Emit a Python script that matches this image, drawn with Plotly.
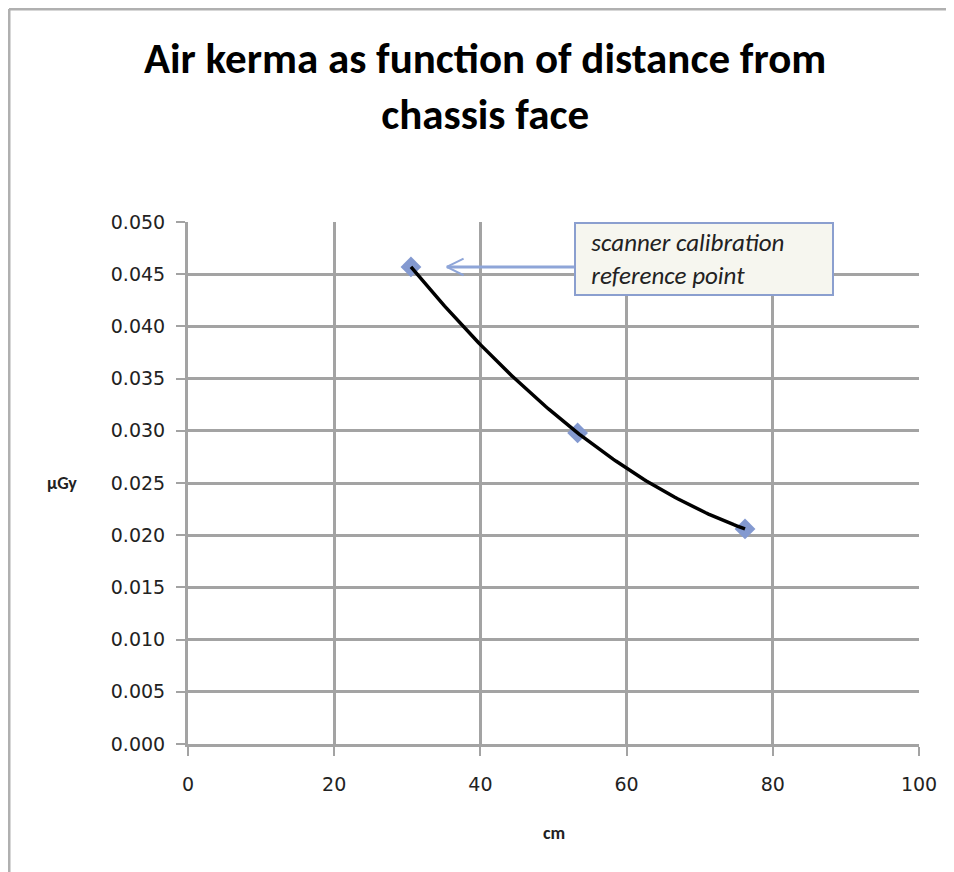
import numpy as np
import plotly.graph_objects as go

# ---- data ----
distance_cm = [30.5, 53.3, 76.2]
air_kerma_uGy = [0.0457, 0.0298, 0.0206]
x_ticks = [0, 20, 40, 60, 80, 100]
y_ticks = [0.000, 0.005, 0.010, 0.015, 0.020, 0.025, 0.030, 0.035, 0.040, 0.045, 0.050]
title_text = "Air kerma as function of distance from<br>chassis face"
note_lines = ["scanner calibration", "reference point"]

FONT = "Carlito, Calibri, 'Liberation Sans Narrow', 'Open Sans', sans-serif"
TICKFONT = "'DejaVu Sans', Verdana, sans-serif"
GRID = "#a3a3a3"
MARK = "#8399d0"
ARROW = "#8ea5d8"

L, T, PW, PH = 180, 214, 731, 522

# trendline (2nd-order polynomial fit of the measured points)
coef = np.polyfit(distance_cm, air_kerma_uGy, 2)
xt = np.linspace(min(distance_cm), max(distance_cm), 120)
yt = np.polyval(coef, xt)

fig = go.Figure()
fig.add_trace(go.Scatter(
    x=distance_cm, y=air_kerma_uGy, mode="markers",
    marker=dict(symbol="diamond", size=16, color=MARK, line=dict(width=0)),
    showlegend=False, hoverinfo="skip"))
fig.add_trace(go.Scatter(
    x=xt, y=yt, mode="lines", line=dict(color="#000000", width=3.5),
    showlegend=False, hoverinfo="skip"))

fig.update_layout(
    width=954, height=872,
    margin=dict(l=L, r=954 - L - PW, t=T, b=872 - T - PH),
    paper_bgcolor="white", plot_bgcolor="white",
    font=dict(family=FONT, color="#222222"),
)
fig.update_xaxes(
    range=[0, 100], tickvals=x_ticks, ticktext=[str(v) for v in x_ticks],
    showgrid=True, gridcolor=GRID, gridwidth=3,
    showline=True, linecolor=GRID, linewidth=3,
    ticks="outside", ticklen=9, tickwidth=2, tickcolor=GRID,
    ticklabelstandoff=12, zeroline=False,
    tickfont=dict(family=TICKFONT, size=19, color="#222222"))
fig.update_yaxes(
    range=[0, 0.05], tickvals=y_ticks, ticktext=[f"{v:.3f}" for v in y_ticks],
    showgrid=True, gridcolor=GRID, gridwidth=3,
    showline=True, linecolor=GRID, linewidth=3,
    ticks="outside", ticklen=9, tickwidth=2, tickcolor=GRID,
    ticklabelstandoff=7, zeroline=False,
    tickfont=dict(family=TICKFONT, size=19, color="#222222"))

# title (single text, two lines)
fig.add_annotation(text=title_text, xref="paper", yref="paper",
                   x=(477 - L) / PW, y=1 + (T - (86 - 8)) / PH,
                   xanchor="center", yanchor="middle", showarrow=False,
                   font=dict(family=FONT, size=43, color="#000000", weight="bold"))

# axis titles
fig.add_annotation(text="µGy", xref="paper", yref="y", x=(54 - L) / PW, y=0.025,
                   xanchor="center", yanchor="middle", showarrow=False,
                   font=dict(family=FONT, size=18, color="#222222", weight="bold"))
fig.add_annotation(text="cm", xref="x", yref="paper", x=50, y=-89 / PH,
                   xanchor="center", yanchor="middle", showarrow=False,
                   font=dict(family=FONT, size=18, color="#222222", weight="bold"))

# callout box
note_text = "<br>".join("&nbsp;&nbsp;<i>" + s + "</i>" for s in note_lines)
fig.add_annotation(text=note_text, xref="x", yref="y",
                   x=52.8, y=0.0500, xanchor="left", yanchor="top",
                   showarrow=False, align="left", width=248, height=62,
                   bgcolor="#f6f6ef", bordercolor="#8b9fcf", borderwidth=2, borderpad=4,
                   font=dict(family=FONT, size=25, color="#222222"))

# arrow from box to calibration point
x0, y0 = distance_cm[0], air_kerma_uGy[0]
tip = x0 + 4.9
fig.add_shape(type="line", xref="x", yref="y", x0=tip, y0=y0, x1=52.8, y1=y0,
              line=dict(color=ARROW, width=3))
fig.add_shape(type="line", xref="x", yref="y", x0=tip, y0=y0, x1=tip + 2.3, y1=y0 + 0.0008,
              line=dict(color=ARROW, width=2))
fig.add_shape(type="line", xref="x", yref="y", x0=tip, y0=y0, x1=tip + 2.3, y1=y0 - 0.0008,
              line=dict(color=ARROW, width=2))

# outer chart border (top and left edges visible)
bx = (1 - L) / PW
by = 1 + (T - 1) / PH
fig.add_shape(type="line", xref="paper", yref="paper",
              x0=bx, y0=by, x1=1 + (954 - L - PW) / PW, y1=by,
              line=dict(color="#b0b0b0", width=3))
fig.add_shape(type="line", xref="paper", yref="paper",
              x0=bx, y0=by, x1=bx, y1=-(872 - T - PH) / PH,
              line=dict(color="#b0b0b0", width=3))

fig.write_html("out.html")
